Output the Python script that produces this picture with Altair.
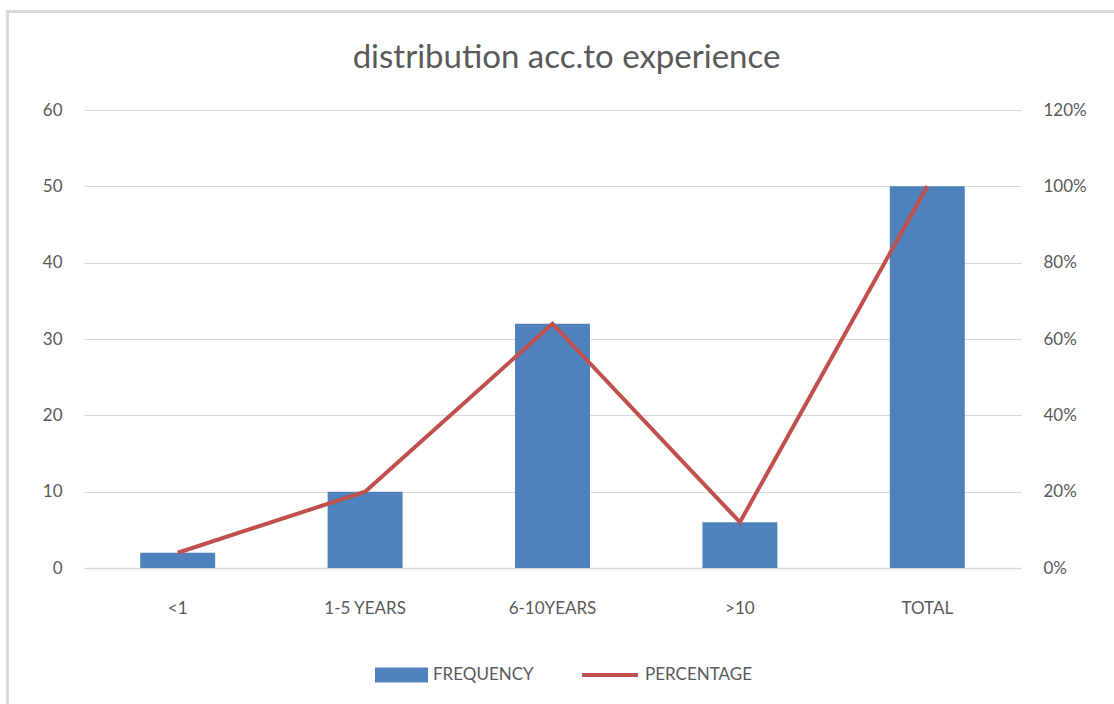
import altair as alt
import pandas as pd

# Experience bands and their counts / shares
categories = ["<1", "1-5 YEARS", "6-10YEARS", ">10", "TOTAL"]
frequency = [2, 10, 32, 6, 50]
percentage = [0.04, 0.20, 0.64, 0.12, 1.00]

BLUE = "#4F81BD"
RED = "#C0504D"
TEXT = "#595959"
GRID = "#D9D9D9"
FONT = "Lato"

df = pd.DataFrame({"category": categories, "frequency": frequency, "percentage": percentage})

base = alt.Chart(df).encode(
    x=alt.X(
        "category:N",
        sort=categories,
        scale=alt.Scale(paddingInner=0.6, paddingOuter=0.3),
        axis=alt.Axis(
            title=None, labelAngle=0, ticks=False, domainColor=GRID, domainWidth=1.5,
            labelFont=FONT, labelFontSize=17, labelColor=TEXT, labelPadding=32,
        ),
    )
)

bars = base.mark_bar(color=BLUE).transform_calculate(series="'FREQUENCY'").encode(
    y=alt.Y(
        "frequency:Q",
        scale=alt.Scale(domain=[0, 60]),
        axis=alt.Axis(
            title=None, values=[0, 10, 20, 30, 40, 50, 60], ticks=False, domain=False,
            gridColor=GRID, gridWidth=1, labelFont=FONT, labelFontSize=17,
            labelColor=TEXT, labelPadding=22,
        ),
    ),
    fill=alt.Fill(
        "series:N",
        scale=alt.Scale(domain=["FREQUENCY"], range=[BLUE]),
        legend=alt.Legend(
            title=None, orient="none", legendX=291, legendY=538.5, padding=0,
            symbolType="M-1,-0.283L1,-0.283L1,0.283L-1,0.283Z", symbolSize=2809,
            symbolStrokeWidth=0, symbolOpacity=1, labelFont=FONT, labelFontSize=17,
            labelColor=TEXT, labelOffset=5,
        ),
    ),
)

line = base.mark_line(color=RED, strokeWidth=4).transform_calculate(series="'PERCENTAGE'").encode(
    y=alt.Y(
        "percentage:Q",
        scale=alt.Scale(domain=[0, 1.2]),
        axis=alt.Axis(
            title=None, orient="right", format=".0%",
            values=[0, 0.2, 0.4, 0.6, 0.8, 1.0, 1.2], ticks=False, domain=False,
            grid=False, labelFont=FONT, labelFontSize=17, labelColor=TEXT,
            labelPadding=22,
        ),
    ),
    stroke=alt.Stroke(
        "series:N",
        scale=alt.Scale(domain=["PERCENTAGE"], range=[RED]),
        legend=alt.Legend(
            title=None, orient="none", legendX=496, legendY=535, padding=0,
            symbolType="M-1,0L1,0", symbolSize=3136, symbolStrokeWidth=4,
            symbolFillColor="transparent", labelFont=FONT, labelFontSize=17,
            labelColor=TEXT, labelOffset=5,
        ),
    ),
)

# Light outer frame around the chart
frame_left = alt.Chart(df).mark_rule(color=GRID, strokeWidth=3).encode(
    x=alt.value(-76.5), y=alt.value(-98.5), y2=alt.value(700)
)
frame_top = alt.Chart(df).mark_rule(color=GRID, strokeWidth=3).encode(
    x=alt.value(-78), x2=alt.value(1100), y=alt.value(-98.5)
)

chart = (
    alt.layer(bars, line, frame_left, frame_top)
    .resolve_scale(y="independent", fill="independent", stroke="independent")
    .properties(
        width=937,
        height=458,
        padding={"left": 84, "top": 110, "right": 93, "bottom": 136},
        autosize=alt.AutoSizeParams(type="none"),
        background="white",
        title=alt.TitleParams(
            "distribution acc.to experience", font=FONT, fontSize=33,
            fontWeight="normal", color=TEXT, anchor="middle", frame="group",
            baseline="alphabetic", offset=-91, dx=14,
        ),
    )
    .configure_view(stroke=None)
)

chart.save("out.html", embed_options={"renderer": "svg", "actions": False})
